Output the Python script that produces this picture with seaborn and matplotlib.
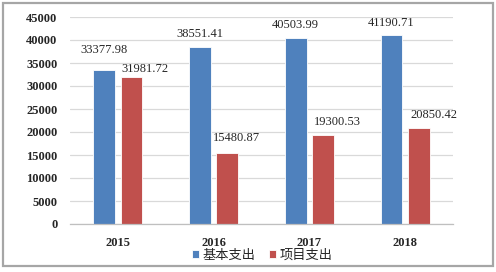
import numpy as np
import pandas as pd
import matplotlib
matplotlib.use("Agg")
import matplotlib.pyplot as plt
from matplotlib.patches import Rectangle
from matplotlib.ticker import FixedLocator
import seaborn as sns

# ----------------------------
# Data
# ----------------------------
years = ["2015", "2016", "2017", "2018"]
series_names = ["基本支出", "项目支出"]
basic_spend = [33377.98, 38551.41, 40503.99, 41190.71]
project_spend = [31981.72, 15480.87, 19300.53, 20850.42]
y_ticks = [0, 5000, 10000, 15000, 20000, 25000, 30000, 35000, 40000, 45000]

colors = ["#4F81BD", "#C0504D"]
# label offsets in pixels (dx, dy above bar top), as placed in the original
label_offsets = [
    [(0, 20), (0, 13), (0, 13), (0, 12)],
    [(13, 8), (9, 15), (14, 13), (15, 13)],
]

df = pd.DataFrame({
    "year": years * 2,
    "series": [series_names[0]] * 4 + [series_names[1]] * 4,
    "value": basic_spend + project_spend,
})

sns.set_style("white")
plt.rcParams["font.family"] = ["Liberation Serif", "DejaVu Serif"]

fig = plt.figure(figsize=(4.96, 2.72), dpi=100)
ax = fig.add_axes([70 / 496, 1 - 224 / 272, 383 / 496, 207 / 272])

sns.barplot(
    data=df, x="year", y="value", hue="series", palette=colors,
    width=0.57, gap=0.2, ax=ax, legend=True, linewidth=0.6,
    edgecolor="white", saturation=1,
)

ax.set_ylim(0, 45000)
ax.set_xlim(-0.5, 3.5)
ax.yaxis.set_major_locator(FixedLocator(y_ticks))
ax.set_yticklabels([str(t) for t in y_ticks])
ax.grid(axis="y", color="#D9D9D9", linewidth=0.9)
ax.set_axisbelow(True)
ax.set_xlabel("")
ax.set_ylabel("")
for side in ["left", "right", "top"]:
    ax.spines[side].set_visible(False)
ax.spines["bottom"].set_color("#BFBFBF")
ax.spines["bottom"].set_linewidth(0.9)

ax.tick_params(axis="y", length=0, pad=9, labelsize=9)
ax.tick_params(axis="x", which="major", length=0, pad=9, labelsize=9)
ax.xaxis.set_minor_locator(FixedLocator(np.arange(-0.5, 4.0, 1.0)))
ax.tick_params(axis="x", which="minor", length=4, color="#BFBFBF", width=0.9,
               direction="out")
for lbl in ax.get_xticklabels() + ax.get_yticklabels():
    lbl.set_fontweight("bold")

# value labels
for s, vals in enumerate([basic_spend, project_spend]):
    cont = ax.containers[s]
    for i, (bar, v) in enumerate(zip(cont, vals)):
        dx, dy = label_offsets[s][i]
        ax.annotate(
            f"{v:.2f}", (bar.get_x() + bar.get_width() / 2, bar.get_height()),
            xytext=(dx, dy), textcoords="offset pixels",
            ha="center", va="center", fontsize=9,
        )

leg = ax.legend(
    loc="center", bbox_to_anchor=(0.529, 0.0625), bbox_transform=fig.transFigure,
    ncol=2, frameon=False, handlelength=0.55, handleheight=0.55,
    handletextpad=0.25, columnspacing=1.0,
    prop={"family": ["Noto Sans CJK SC", "DejaVu Sans"], "size": 9.5},
)

# outer frame
fig.patches.append(Rectangle(
    (3 / 496, 1 - 266 / 272), 490 / 496, 263 / 272,
    transform=fig.transFigure, fill=False, edgecolor="#A6A6A6", linewidth=1.6,
))

fig.savefig("out.png", dpi=100)
